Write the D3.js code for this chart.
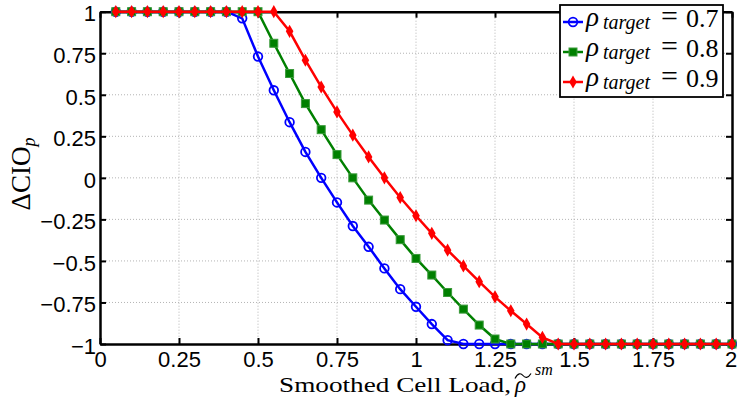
<!DOCTYPE html>
<html>
<head>
<meta charset="utf-8">
<script src="https://cdn.jsdelivr.net/npm/d3@7"></script>
<style>
  body { margin: 0; background: #fff; }
  svg { display: block; }
  .tick text { font-family: "Liberation Sans", Arial, sans-serif; font-size: 22px; fill: #000; }
  .grid line { stroke: #b4b4b4; stroke-width: 1; stroke-dasharray: 1 2; }
  .math { font-family: "Liberation Serif", "DejaVu Serif", serif; fill: #000; }
</style>
</head>
<body>
<script>
// chart size (the window is 737x397)
const DIMS = { width: 737, height: 397, left: 100, right: 732, top: 11.7, bottom: 344 };

// ----- data -----
const cellLoad = [0.05, 0.1, 0.15, 0.2, 0.25, 0.3, 0.35, 0.4, 0.45, 0.5,
                  0.55, 0.6, 0.65, 0.7, 0.75, 0.8, 0.85, 0.9, 0.95, 1.0,
                  1.05, 1.1, 1.15, 1.2, 1.25, 1.3, 1.35, 1.4, 1.45, 1.5,
                  1.55, 1.6, 1.65, 1.7, 1.75, 1.8, 1.85, 1.9, 1.95, 2.0];

const cioTarget07 = [1, 1, 1, 1, 1, 1, 1, 1, 0.96, 0.73,
                     0.527, 0.335, 0.156, 0.0, -0.148, -0.29, -0.415, -0.545, -0.67, -0.776,
                     -0.88, -0.977, -1, -1, -1, -1, -1, -1, -1, -1,
                     -1, -1, -1, -1, -1, -1, -1, -1, -1, -1];

const cioTarget08 = [1, 1, 1, 1, 1, 1, 1, 1, 1, 1,
                     0.81, 0.628, 0.447, 0.29, 0.14, 0.0, -0.134, -0.254, -0.372, -0.485,
                     -0.585, -0.69, -0.79, -0.886, -0.97, -1, -1, -1, -1, -1,
                     -1, -1, -1, -1, -1, -1, -1, -1, -1, -1];

const cioTarget09 = [1, 1, 1, 1, 1, 1, 1, 1, 1, 1,
                     1, 0.882, 0.708, 0.547, 0.397, 0.257, 0.126, 0.0, -0.118, -0.228,
                     -0.334, -0.435, -0.53, -0.625, -0.716, -0.8, -0.88, -0.96, -1, -1,
                     -1, -1, -1, -1, -1, -1, -1, -1, -1, -1];

const targets = ["0.7", "0.8", "0.9"];
const xTicks = [0, 0.25, 0.5, 0.75, 1, 1.25, 1.5, 1.75, 2];
const yTicks = [-1, -0.75, -0.5, -0.25, 0, 0.25, 0.5, 0.75, 1];

const series = [
  { name: targets[0], values: cioTarget07, color: "#0000ff", marker: "circle" },
  { name: targets[1], values: cioTarget08, color: "#008000", marker: "square" },
  { name: targets[2], values: cioTarget09, color: "#ff0000", marker: "diamond" }
];

// ----- scales / axes -----
const x = d3.scaleLinear().domain([0, 2]).range([DIMS.left, DIMS.right]);
const y = d3.scaleLinear().domain([-1, 1]).range([DIMS.bottom, DIMS.top]);
const fmt = d => d3.format("")(d).replace("-", "\u2212");

const svg = d3.select("body").append("svg")
  .attr("width", DIMS.width)
  .attr("height", DIMS.height);

// grid
const grid = svg.append("g").attr("class", "grid");
grid.selectAll(".gx").data(xTicks.slice(1, -1)).enter().append("line")
  .attr("x1", d => x(d)).attr("x2", d => x(d))
  .attr("y1", DIMS.top).attr("y2", DIMS.bottom);
grid.selectAll(".gy").data(yTicks.slice(1, -1)).enter().append("line")
  .attr("y1", d => y(d)).attr("y2", d => y(d))
  .attr("x1", DIMS.left).attr("x2", DIMS.right);

// axes (ticks point inward, on all four sides)
const axisStyle = g => {
  g.select(".domain").attr("stroke", "#000").attr("stroke-width", 2.5);
  g.selectAll(".tick line").attr("stroke", "#000").attr("stroke-width", 2);
};
const xAxisGroup = svg.append("g").attr("transform", `translate(0,${DIMS.bottom})`)
  .call(d3.axisBottom(x).tickValues(xTicks).tickFormat(fmt).tickSize(-6).tickSizeOuter(0).tickPadding(7))
  .call(axisStyle);
// last label sits right on the window edge
xAxisGroup.selectAll(".tick text").filter(d => d === 2).attr("dx", -1.5);
svg.append("g").attr("transform", `translate(${DIMS.left},0)`)
  .call(d3.axisLeft(y).tickValues(yTicks).tickFormat(fmt).tickSize(-6).tickSizeOuter(0).tickPadding(4))
  .call(axisStyle)
  .selectAll(".tick text").attr("dy", "0.42em");
svg.append("g").attr("transform", `translate(0,${DIMS.top})`)
  .call(d3.axisTop(x).tickValues(xTicks).tickFormat("").tickSize(-6).tickSizeOuter(0))
  .call(axisStyle);
svg.append("g").attr("transform", `translate(${DIMS.right},0)`)
  .call(d3.axisRight(y).tickValues(yTicks).tickFormat("").tickSize(-6).tickSizeOuter(0))
  .call(axisStyle);

// ----- lines and markers -----
const line = d3.line().x((d, i) => x(cellLoad[i])).y(d => y(d));
const drawMarker = (g, s) => {
  if (s.marker === "circle") {
    g.append("circle").attr("r", 4.3).attr("fill", "none")
      .attr("stroke", s.color).attr("stroke-width", 1.8);
  } else if (s.marker === "square") {
    g.append("rect").attr("x", -4).attr("y", -4).attr("width", 8).attr("height", 8)
      .attr("fill", s.color).attr("stroke", "#3a9a3a").attr("stroke-width", 1);
  } else {
    g.append("path").attr("d", d3.symbol(d3.symbolDiamond, 50)())
      .attr("fill", s.color);
  }
};

series.forEach(s => {
  const g = svg.append("g");
  g.append("path").datum(s.values)
    .attr("d", line).attr("fill", "none")
    .attr("stroke", s.color).attr("stroke-width", 2.5);
  g.selectAll(".m").data(s.values).enter().append("g")
    .attr("transform", (d, i) => `translate(${x(cellLoad[i])},${y(d)})`)
    .each(function () { drawMarker(d3.select(this), s); });
});

// ----- axis labels -----
svg.append("text").attr("class", "math")
  .attr("x", 279).attr("y", 391.5).attr("font-size", 22)
  .attr("textLength", 232).attr("lengthAdjust", "spacingAndGlyphs")
  .text("Smoothed Cell Load,");
svg.append("text").attr("class", "math").attr("font-style", "italic")
  .attr("x", 515).attr("y", 392).attr("font-size", 23).text("\u03c1");
svg.append("text").attr("class", "math").attr("font-style", "italic")
  .attr("x", 535).attr("y", 375).attr("font-size", 16).text("sm");
svg.append("path")
  .attr("d", "M515,378.5 C518,372.5 521,373 523,375.5 C525,378 528,378.5 531,373.5")
  .attr("fill", "none").attr("stroke", "#000").attr("stroke-width", 1.2);

const yl = svg.append("text").attr("class", "math")
  .attr("transform", "translate(30,174) rotate(-90)")
  .attr("text-anchor", "middle").attr("font-size", 27);
yl.append("tspan").text("\u0394CIO");
yl.append("tspan").attr("font-style", "italic").attr("font-size", 18).attr("dy", 5).text("p");

// ----- legend -----
const legend = svg.append("g").attr("transform", "translate(560,5)");
legend.append("rect").attr("width", 163).attr("height", 92)
  .attr("fill", "#fff").attr("stroke", "#000").attr("stroke-width", 1.8);
series.forEach((s, i) => {
  const row = legend.append("g").attr("transform", `translate(0,${17 + i * 30})`);
  row.append("line").attr("x1", 3).attr("x2", 23)
    .attr("stroke", s.color).attr("stroke-width", 2.5);
  drawMarker(row.append("g").attr("transform", "translate(13,0)"), s);
  row.append("text").attr("class", "math").attr("font-style", "italic")
    .attr("x", 26).attr("y", 4).attr("font-size", 27).text("\u03c1");
  row.append("text").attr("class", "math").attr("font-style", "italic")
    .attr("x", 43).attr("y", 7).attr("font-size", 20).text("target");
  row.append("text").attr("class", "math")
    .attr("x", 101).attr("y", 4).attr("font-size", 30).text("=");
  row.append("text").attr("class", "math")
    .attr("x", 126).attr("y", 5).attr("font-size", 26).text(s.name);
});
</script>
</body>
</html>
